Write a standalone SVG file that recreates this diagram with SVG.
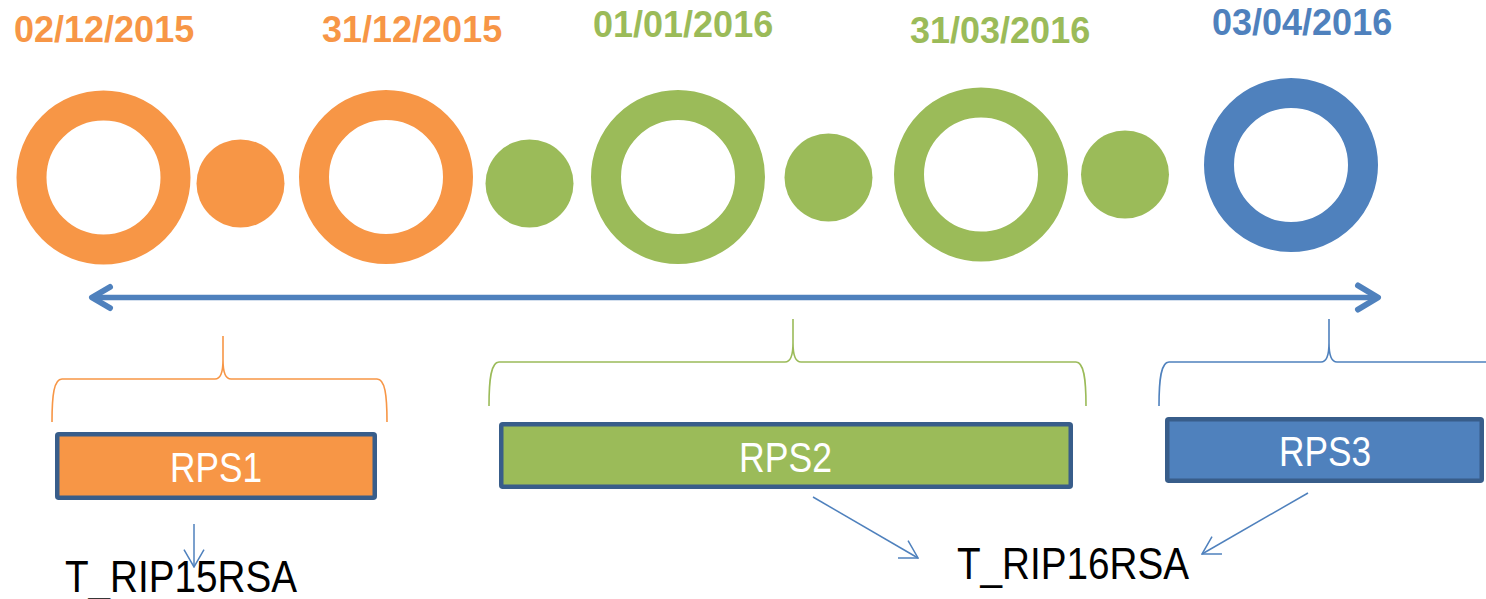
<svg xmlns="http://www.w3.org/2000/svg" width="1486" height="599" viewBox="0 0 1486 599">
<style>
.date{font-family:"Liberation Sans",Arial,sans-serif;font-weight:bold;font-size:36px}
.or{fill:#F79646}.gr{fill:#9BBB59}.bl{fill:#4F81BD}
.ring{fill:none;stroke-width:30}
.brace{fill:none;stroke-width:1.6}
.box{stroke:#385D8A;stroke-width:4.5}
.lbl{font-family:"Liberation Sans",Arial,sans-serif;font-size:42px;fill:#FFFFFF;text-anchor:middle}
.tbl{font-family:"Liberation Sans",Arial,sans-serif;font-size:44px;fill:#000000}
.thin{fill:none;stroke:#4F81BD;stroke-width:1.5;marker-end:url(#open)}
</style>
<defs>
<marker id="open" markerUnits="userSpaceOnUse" viewBox="-19 -11 20 22" markerWidth="20" markerHeight="22" refX="0" refY="0" orient="auto">
<path d="M-17.3,-10 L0,0 L-17.3,10" fill="none" stroke="#4F81BD" stroke-width="1.5"/>
</marker>
</defs>
<g id="dates">
<text class="date or" x="14" y="42">02/12/2015</text>
<text class="date or" x="322" y="42">31/12/2015</text>
<text class="date gr" x="593" y="37">01/01/2016</text>
<text class="date gr" x="910" y="43">31/03/2016</text>
<text class="date bl" x="1212" y="35">03/04/2016</text>
</g>
<g id="ring1"><circle class="ring" cx="103.5" cy="177.5" r="72" stroke="#F79646"/></g>
<g id="dot1"><circle class="or" cx="240.5" cy="183.5" r="44"/></g>
<g id="ring2"><circle class="ring" cx="386" cy="177" r="72" stroke="#F79646"/></g>
<g id="dot2"><circle class="gr" cx="529.5" cy="183.5" r="44"/></g>
<g id="ring3"><circle class="ring" cx="678" cy="177" r="72" stroke="#9BBB59"/></g>
<g id="dot3"><circle class="gr" cx="828.5" cy="177.5" r="44"/></g>
<g id="ring4"><circle class="ring" cx="981" cy="174.5" r="72" stroke="#9BBB59"/></g>
<g id="dot4"><circle class="gr" cx="1125" cy="174.5" r="44"/></g>
<g id="ring5"><circle class="ring" cx="1291" cy="165" r="72" stroke="#4F81BD"/></g>
<g id="brace1"><path class="brace" stroke="#F79646" d="M52,422 C52,395 54,379 62,379 L215,379 C220,379 223,372 223,360 L223,336 M223,336 L223,360 C223,372 226,379 231,379 L377,379 C385,379 387,395 387,422"/></g>
<g id="brace2"><path class="brace" stroke="#9BBB59" d="M489,406 C489,379 491,362 499,362 L785,362 C790,362 793,355 793,343 L793,319 M793,319 L793,343 C793,355 796,362 801,362 L1076,362 C1084,362 1086,379 1086,406"/></g>
<g id="brace3"><path class="brace" stroke="#4F81BD" d="M1159,406 C1159,379 1161,362 1169,362 L1321,362 C1326,362 1329,355 1329,343 L1329,319 M1329,319 L1329,343 C1329,355 1332,362 1337,362 L1500,362"/></g>
<g id="rps1"><rect class="box or" x="57.25" y="434.25" width="317.5" height="63.5" rx="1.5"/><text class="lbl" x="216" y="482" textLength="92" lengthAdjust="spacingAndGlyphs">RPS1</text></g>
<g id="rps2"><rect class="box gr" x="501.25" y="424.25" width="569.5" height="62.5" rx="1.5"/><text class="lbl" x="785.5" y="472" textLength="93" lengthAdjust="spacingAndGlyphs">RPS2</text></g>
<g id="rps3"><rect class="box bl" x="1167.25" y="419.25" width="314.5" height="61.5" rx="1.5"/><text class="lbl" x="1325" y="466" textLength="92" lengthAdjust="spacingAndGlyphs">RPS3</text></g>
<g id="t15"><text class="tbl" x="65" y="592" textLength="232" lengthAdjust="spacingAndGlyphs">T_RIP15RSA</text></g>
<g id="t16"><text class="tbl" x="957" y="579" textLength="232" lengthAdjust="spacingAndGlyphs">T_RIP16RSA</text></g>
<g id="connectors">
<line x1="93" y1="297.5" x2="1377" y2="297.5" stroke="#4F81BD" stroke-width="5.5"/>
<path d="M110,287 L92,297.5 L110,308" fill="none" stroke="#4F81BD" stroke-width="6" stroke-linejoin="round" stroke-linecap="round"/>
<path d="M1358,285.5 L1378,297.5 L1358,309.5" fill="none" stroke="#4F81BD" stroke-width="6" stroke-linejoin="round" stroke-linecap="round"/>
<line class="thin" x1="194" y1="524" x2="194" y2="567"/>
<line class="thin" x1="813" y1="497" x2="918" y2="558"/>
<line class="thin" x1="1308" y1="493" x2="1202" y2="554"/>
</g>
</svg>
